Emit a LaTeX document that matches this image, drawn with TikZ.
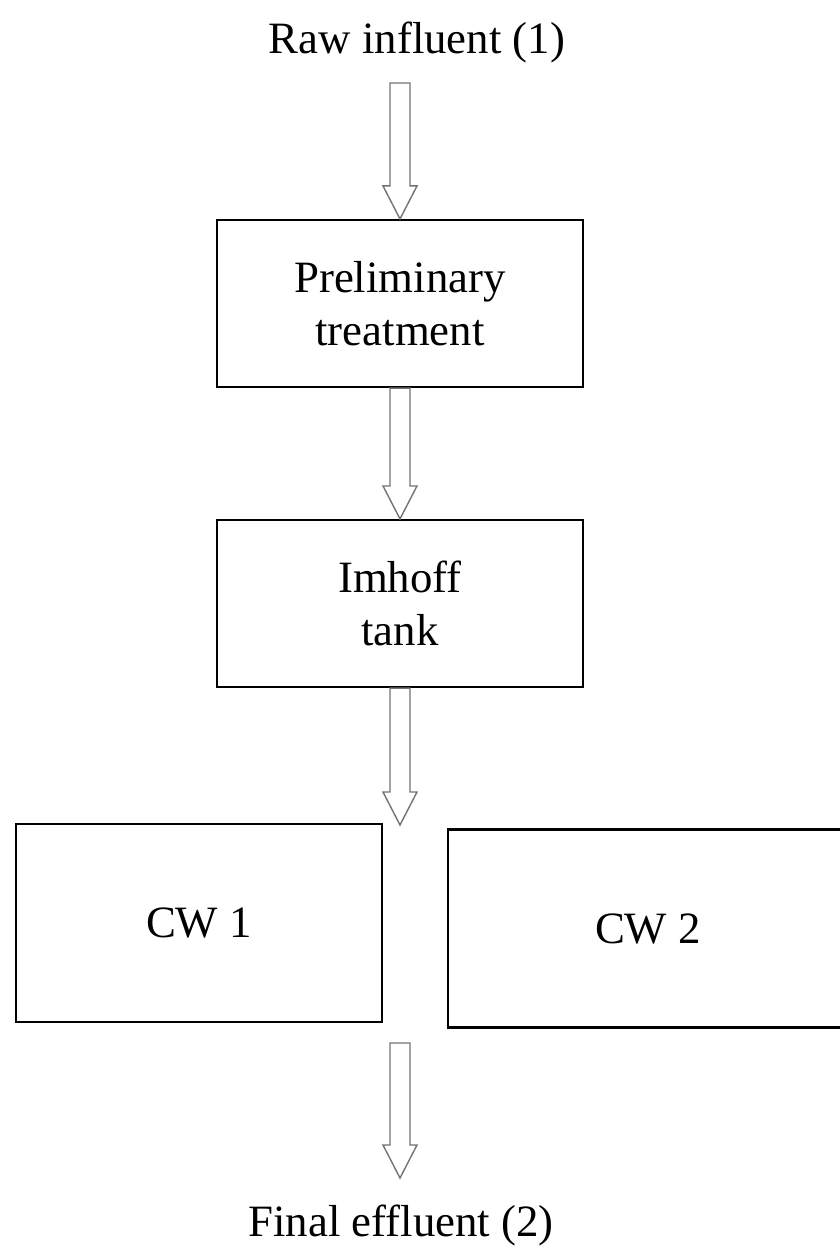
\documentclass[tikz,border=0pt]{standalone}
\usepackage{fontspec}
\setmainfont{Liberation Serif}
\usetikzlibrary{positioning,calc}

% hollow block arrow from a start point straight down to a tip
\newcommand{\flowarrow}[2]{%
  \draw[flowarrow]
    ($(#1)+(-0.2,0)$) -- ($(#2)+(-0.2,0.66)$) -- ($(#2)+(-0.34,0.66)$)
    -- (#2) -- ($(#2)+(0.34,0.66)$) -- ($(#2)+(0.2,0.66)$)
    -- ($(#1)+(0.2,0)$) -- cycle;}

\begin{document}
\begin{tikzpicture}[
    stagebox/.style={
      draw=black,
      line width=1.2pt,
      minimum width=7.32cm,
      minimum height=3.34cm,
      align=center,
      inner sep=4pt
    },
    wetland/.style={
      stagebox,
      minimum height=3.96cm
    },
    label/.style={
      inner sep=0pt
    },
    flowarrow/.style={
      draw=black!55,
      fill=white,
      line width=0.8pt,
      line join=miter
    },
    font=\fontsize{25.5}{30}\selectfont]

    \useasboundingbox (0,0) rectangle (16.8,-25.02);
    \clip (0,0) rectangle (16.8,-25.02);

    % Inlet
    \node[label] (raw) at (8.34,-0.84) {Raw influent (1)};

    % Stage 1
    \node[stagebox] (pre) at (8.0,-6.07) {Preliminary\\treatment};

    % Stage 2
    \node[stagebox] (imhoff) at (8.0,-12.07) {Imhoff\\tank};

    % Constructed wetlands
    \node[wetland] (cw1) at (3.98,-18.46) {CW 1};
    \node[wetland,minimum width=8cm] (cw2) at (12.96,-18.57) {CW 2};

    % Outlet
    \node[label] (final) at (8.02,-24.5) {Final effluent (2)};

    % Arrow ends
    \coordinate (in1) at (8.0,-1.66);
    \coordinate (split) at (8.0,-16.5);
    \coordinate (out1) at (8.0,-20.86);
    \coordinate (out2) at (8.0,-23.56);

    % Connective arrows
    \flowarrow{in1}{pre.north}
    \flowarrow{pre.south}{imhoff.north}
    \flowarrow{imhoff.south}{split}
    \flowarrow{out1}{out2}
\end{tikzpicture}
\end{document}
